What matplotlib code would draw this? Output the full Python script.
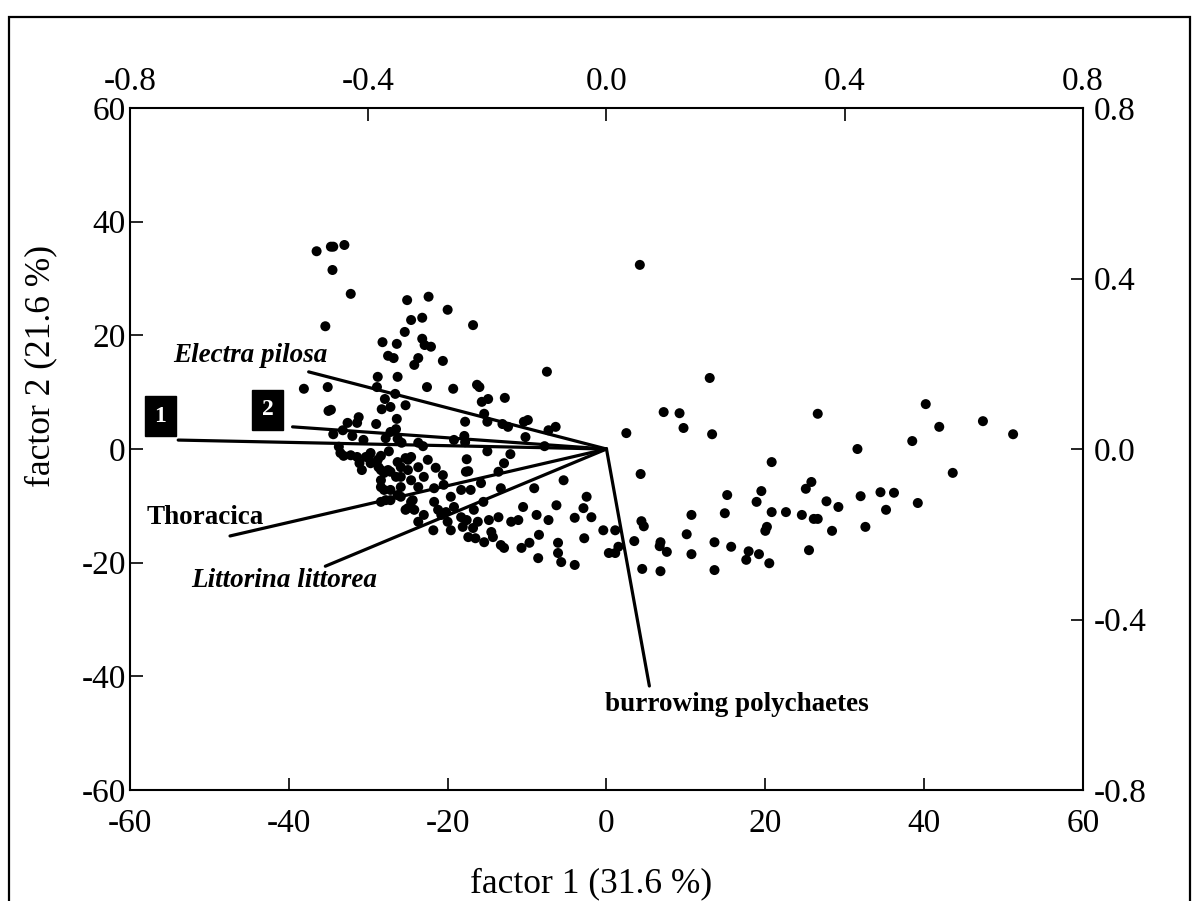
import matplotlib
matplotlib.use("Agg")
import matplotlib.pyplot as plt
from matplotlib.patches import Rectangle

plt.rcParams['font.family'] = ['Liberation Serif', 'DejaVu Serif']
plt.rcParams['axes.unicode_minus'] = False

# sample scores (factor 1, factor 2)
score_x = [
    -36.5, -34.7, -34.4, -33.0, -34.5, -32.2, -25.1, -22.4, -20.0, -24.6,
    -23.2, -35.4, -16.8, -25.4, -28.2, -26.4, -23.2, -22.9, -22.1, -27.5,
    -26.8, -23.7, -20.6, -24.2, -7.5, -28.8, -26.3, -38.1, -35.1, -28.9,
    -22.6, -19.3, -16.3, -16.0, -26.6, -27.9, -15.7, -14.9, -12.8, -25.3,
    -27.2, -28.3, -35.0, -34.7, -26.4, -15.4, -17.8, -15.0, -13.1, -12.4,
    -10.4, -9.9, -6.4, -7.3, -31.2, -31.4, -32.6, -29.0, -33.2, -32.0,
    -34.4, -26.5, -27.2, -27.8, -26.3, -25.8, -23.7, -23.1, -19.2, -17.9,
    -17.8, -10.2, -7.8, -15.0, -12.1, -17.6, -12.9, -13.6, -17.4, -33.7,
    -33.5, -33.1, -31.4, -30.3, -29.9, -28.4, -27.4, -31.1, -30.8, -29.7,
    -28.8, -28.4, -26.3, -25.3, -24.6, -23.7, -22.5, -21.5, -20.6, -25.0,
    -27.2, -25.9, -27.5, -28.4, -28.0, -27.2, -26.5, -25.9, -24.6, -23.7,
    -23.0, -21.7, -20.5, -19.6, -18.3, -17.1, -17.7, -15.8, -13.3, -27.2,
    -26.3, -25.3, -24.4, -24.2, -23.7, -23.0, -21.8, -21.7, -21.2, -20.8,
    -20.2, -20.0, -19.6, -19.2, -18.3, -18.1, -17.6, -17.4, -16.8, -16.7,
    -16.2, -15.4, -15.5, -14.8, -14.5, -14.3, -13.6, -13.3, -12.9, -12.0,
    -11.1, -10.7, -10.5, -9.7, -9.1, -8.8, -8.6, -8.5, -7.3, -6.3,
    -6.1, -6.1, -5.7, -5.4, -4.0, -4.0, -2.9, -2.8, -2.5, -1.9,
    -0.4, 0.3, 1.1, 1.5, -16.5, -32.2, -30.6, -28.7, -28.0, -28.4,
    -25.9, -28.4, -27.8, -25.0, -24.6, -25.0, -25.9, -29.7,
    4.2, 13.0, 7.2, 9.2, 9.7, 13.3, 2.5, 26.6, 40.2, 47.4,
    51.2, 41.9, 38.5, 31.6, 43.6, 20.8, 4.3, 25.8, 25.1, 19.5,
    18.9, 15.2, 14.9, 20.8, 22.6, 24.6, 26.1, 26.6, 27.7, 29.2,
    32.0, 34.5, 36.2, 35.2, 39.2, 28.4, 32.6, 25.5, 20.2, 20.0,
    10.7, 10.1, 4.4, 4.7, 3.5, 1.1, 6.8, 6.7, 7.6, 10.7,
    13.6, 15.7, 17.9, 19.2, 17.6, 20.5, 4.5, 6.8, 13.6,
]
score_y = [
    34.8, 35.6, 35.6, 35.9, 31.5, 27.3, 26.2, 26.8, 24.5, 22.7,
    23.1, 21.6, 21.8, 20.6, 18.8, 18.5, 19.4, 18.3, 18.0, 16.4,
    16.0, 16.0, 15.5, 14.8, 13.6, 12.7, 12.7, 10.6, 10.9, 10.9,
    10.9, 10.6, 11.3, 10.9, 9.7, 8.8, 8.3, 8.8, 9.0, 7.7,
    7.4, 7.0, 6.7, 6.9, 5.3, 6.2, 4.8, 4.8, 4.4, 3.9,
    4.8, 5.1, 3.9, 3.3, 5.6, 4.6, 4.6, 4.4, 3.3, 2.3,
    2.6, 3.5, 3.0, 1.9, 1.8, 1.1, 1.1, 0.5, 1.6, 2.3,
    1.2, 2.1, 0.5, -0.4, -0.9, -1.8, -2.5, -4.0, -3.9, 0.4,
    -0.7, -1.2, -1.4, -1.4, -1.2, -1.2, -0.4, -2.5, -3.7, -2.5,
    -1.9, -3.7, -2.3, -1.6, -1.4, -3.2, -1.9, -3.3, -4.6, -3.7,
    -4.0, -4.9, -3.7, -6.7, -7.2, -7.2, -4.9, -6.7, -5.5, -6.7,
    -4.9, -6.9, -6.3, -8.4, -7.2, -7.2, -4.0, -6.0, -6.9, -9.0,
    -8.1, -10.7, -9.0, -10.7, -12.8, -11.6, -14.3, -9.3, -10.7, -11.6,
    -11.1, -12.8, -14.3, -10.2, -12.0, -13.7, -12.5, -15.5, -13.9, -10.7,
    -12.8, -16.4, -9.3, -12.5, -14.6, -15.5, -12.0, -16.9, -17.4, -12.8,
    -12.5, -17.4, -10.2, -16.5, -6.9, -11.6, -19.2, -15.1, -12.5, -9.9,
    -16.5, -18.3, -19.9, -5.5, -12.1, -20.4, -10.4, -15.7, -8.4, -12.0,
    -14.3, -18.3, -14.3, -17.2, -15.7, -1.1, 1.6, -3.2, -4.2, -5.5,
    -8.4, -9.3, -9.0, -10.4, -9.3, -1.9, -3.2, -0.7,
    32.4, 12.5, 6.5, 6.3, 3.7, 2.6, 2.8, 6.2, 7.9, 4.9,
    2.6, 3.9, 1.4, 0.0, -4.2, -2.3, -4.4, -5.8, -7.0, -7.4,
    -9.3, -8.1, -11.3, -11.1, -11.1, -11.6, -12.3, -12.3, -9.2, -10.2,
    -8.3, -7.6, -7.7, -10.7, -9.5, -14.4, -13.7, -17.8, -13.7, -14.4,
    -11.6, -15.0, -12.7, -13.6, -16.2, -18.3, -16.4, -17.1, -18.1, -18.5,
    -16.4, -17.2, -18.0, -18.5, -19.5, -20.1, -21.1, -21.5, -21.3,
]

# variable loadings (factor 1, factor 2)
load_names = ["1", "2", "Electra pilosa", "Thoracica",
              "Littorina littorea", "burrowing polychaetes"]
load_x = [-0.719, -0.527, -0.500, -0.632, -0.472, 0.072]
load_y = [0.021, 0.052, 0.181, -0.204, -0.275, -0.556]

score_ticks = [-60, -40, -20, 0, 20, 40, 60]
load_xticks = [-0.8, -0.4, 0.0, 0.4, 0.8]
load_yticks = [-0.8, -0.4, 0.0, 0.4, 0.8]

fig = plt.figure(figsize=(12, 9.01), dpi=100)
pos = [0.1083, 0.1232, 0.7942, 0.7569]
ax = fig.add_axes(pos)
ax.scatter(score_x[:len(score_y)], score_y, s=52, c='black', edgecolors='none', zorder=2)
ax.set_xlim(-60, 60)
ax.set_ylim(-60, 60)
ax.set_xticks(score_ticks)
ax.set_yticks(score_ticks)
ax.tick_params(direction='in', length=9, width=1.2, labelsize=24, top=False, right=False)
ax.tick_params(axis='x', pad=13)
ax.tick_params(axis='y', pad=3)
ax.set_xlabel("factor 1 (31.6 %)", fontsize=25.5)
ax.set_ylabel("factor 2 (21.6 %)", fontsize=25.5)
ax.xaxis.set_label_coords(0.484, -0.113)
ax.yaxis.set_label_coords(-0.0766, 0.622)
for sp in ax.spines.values():
    sp.set_linewidth(1.5)

axl = fig.add_axes(pos, frameon=False)
axl.set_xlim(-0.8, 0.8)
axl.set_ylim(-0.8, 0.8)
axl.xaxis.tick_top()
axl.yaxis.tick_right()
axl.set_xticks(load_xticks)
axl.set_yticks(load_yticks)
axl.set_xticklabels([f"{v:.1f}" for v in load_xticks])
axl.set_yticklabels([f"{v:.1f}" for v in load_yticks])
axl.tick_params(direction='in', length=9, width=1.2, labelsize=24)
axl.tick_params(axis='x', pad=8)
axl.tick_params(axis='y', pad=8)
axl.patch.set_visible(False)

for lx, ly in zip(load_x, load_y):
    axl.plot([0, lx], [0, ly], color='black', lw=2.3, solid_capstyle='round', zorder=3)

lab_kw = dict(fontsize=19.5, fontweight='bold', va='center', ha='left')
axl.text(-0.727, 0.219, load_names[2], fontstyle='italic', **lab_kw)
axl.text(-0.772, -0.160, load_names[3], **lab_kw)
axl.text(-0.697, -0.309, load_names[4], fontstyle='italic', **lab_kw)
axl.text(-0.003, -0.600, load_names[5], **lab_kw)
box = dict(boxstyle='square,pad=0.4', fc='black', ec='black')
axl.text(-0.749, 0.077, load_names[0], color='white', fontsize=17, fontweight='bold',
         ha='center', va='center', bbox=box)
axl.text(-0.569, 0.092, load_names[1], color='white', fontsize=17, fontweight='bold',
         ha='center', va='center', bbox=box)

fig.patches.append(Rectangle((0.0075, -0.05), 0.9842, 1.031, transform=fig.transFigure,
                             fill=False, ec='black', lw=1.6))

fig.savefig("out.png", dpi=100)
